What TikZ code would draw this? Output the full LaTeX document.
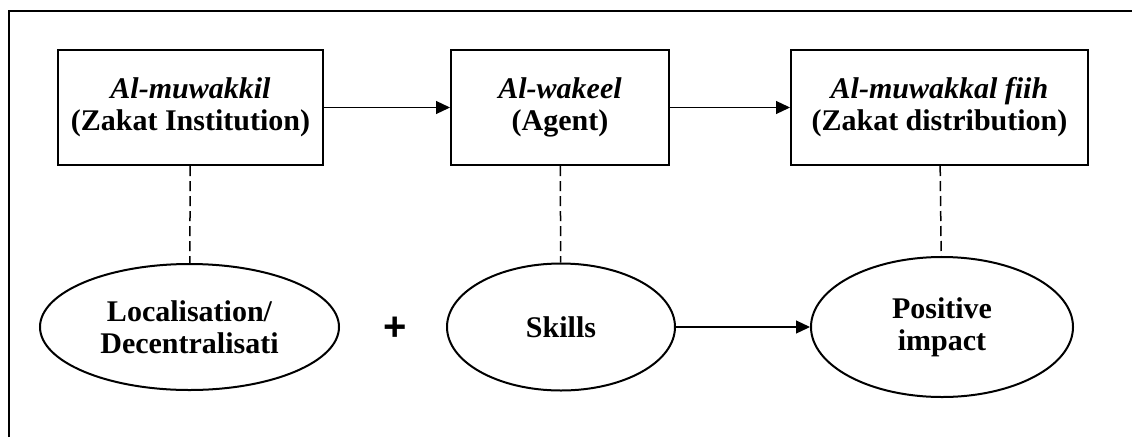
\documentclass[tikz,border=0pt]{standalone}
\usepackage{fontspec}
\setmainfont{Liberation Serif}
\newfontfamily\plusfont{Liberation Sans}
\usetikzlibrary{arrows.meta,shapes.geometric,positioning}

\begin{document}
\begin{tikzpicture}[x=1pt,y=-1pt,>={Triangle[length=14pt,width=13pt]},
    box/.style={draw,line width=2pt,minimum height=115pt,inner sep=0pt,
      align=center,font=\fontsize{30}{32}\selectfont\bfseries},
    oval/.style={draw,ellipse,line width=2pt,inner sep=0pt,
      align=center,font=\fontsize{30}{32}\selectfont\bfseries},
    link/.style={->,line width=1.2pt},
    tie/.style={line width=1.5pt,dash pattern=on 10pt off 5pt}]
  \useasboundingbox (0,0) rectangle (1132,437);
  % outer frame
  \draw[line width=2pt] (8.5,437) -- (8.5,11) -- (1132,11);
  % top boxes
  \node[box,minimum width=265pt] (muwakkil) at (190.5,107.5)
    {\textit{Al-muwakkil}\\(Zakat Institution)};
  \node[box,minimum width=218pt] (wakeel) at (560,107.5)
    {\textit{Al-wakeel}\\(Agent)};
  \node[box,minimum width=297pt] (fiih) at (939.5,107.5)
    {\textit{Al-muwakkal fiih}\\(Zakat distribution)};
  % bottom ovals
  \node[oval,minimum width=299pt,minimum height=126pt] (local) at (189.5,327)
    {Localisation/\\Decentralisati};
  \node[oval,minimum width=228pt,minimum height=127pt] (skills) at (561,327)
    {Skills};
  \node[oval,minimum width=262pt,minimum height=140pt] (impact) at (942,327)
    {Positive\\impact};
  \node[font=\plusfont\fontsize{40}{40}\selectfont\bfseries] (plus) at (395,329) {+};
  % arrows
  \draw[link] (muwakkil) -- (wakeel);
  \draw[link] (wakeel) -- (fiih);
  \draw[link] (skills) -- (impact);
  % dashed ties
  \draw[tie] (muwakkil) -- (local);
  \draw[tie] (wakeel) -- (skills);
  \draw[tie] (fiih) -- (impact);
\end{tikzpicture}
\end{document}
